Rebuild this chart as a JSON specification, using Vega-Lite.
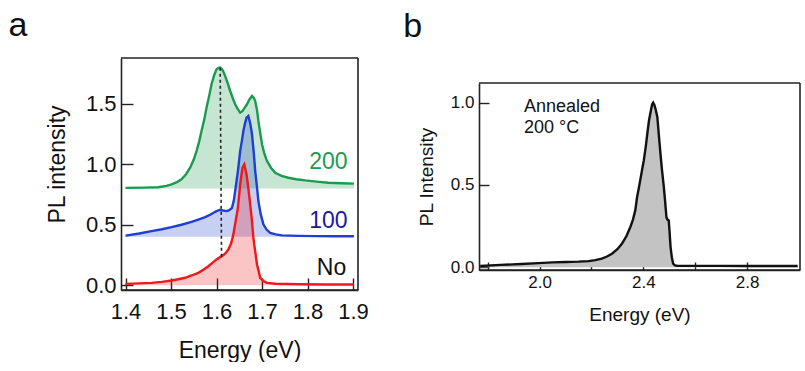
{
  "$schema": "https://vega.github.io/schema/vega-lite/v6.json",
  "padding": {"left": 8, "top": 9, "right": 0, "bottom": 0},
  "spacing": 34,
  "config": {
    "font": "Liberation Sans",
    "view": {"stroke": null},
    "axis": {"grid": false, "domain": true, "domainColor": "#222222", "domainWidth": 1.6, "tickColor": "#222222", "tickWidth": 1.4, "labelColor": "#111111", "titleColor": "#111111", "titleFontWeight": "normal", "labelFont": "Liberation Sans", "titleFont": "Liberation Sans"},
    "title": {"fontWeight": "normal", "anchor": "start", "frame": "bounds", "color": "#111111", "font": "Liberation Sans"}
  },
  "datasets": {
    "spectraA": [
      {"sample": "200", "baseline": 0.8, "energy": 1.40, "intensity": 0.805},
      {"sample": "200", "baseline": 0.8, "energy": 1.44, "intensity": 0.807},
      {"sample": "200", "baseline": 0.8, "energy": 1.472, "intensity": 0.81},
      {"sample": "200", "baseline": 0.8, "energy": 1.49, "intensity": 0.822},
      {"sample": "200", "baseline": 0.8, "energy": 1.501, "intensity": 0.834},
      {"sample": "200", "baseline": 0.8, "energy": 1.513, "intensity": 0.853},
      {"sample": "200", "baseline": 0.8, "energy": 1.523, "intensity": 0.876},
      {"sample": "200", "baseline": 0.8, "energy": 1.533, "intensity": 0.918},
      {"sample": "200", "baseline": 0.8, "energy": 1.542, "intensity": 0.972},
      {"sample": "200", "baseline": 0.8, "energy": 1.550, "intensity": 1.04},
      {"sample": "200", "baseline": 0.8, "energy": 1.556, "intensity": 1.11},
      {"sample": "200", "baseline": 0.8, "energy": 1.562, "intensity": 1.19},
      {"sample": "200", "baseline": 0.8, "energy": 1.567, "intensity": 1.276},
      {"sample": "200", "baseline": 0.8, "energy": 1.573, "intensity": 1.37},
      {"sample": "200", "baseline": 0.8, "energy": 1.578, "intensity": 1.469},
      {"sample": "200", "baseline": 0.8, "energy": 1.584, "intensity": 1.57},
      {"sample": "200", "baseline": 0.8, "energy": 1.589, "intensity": 1.663},
      {"sample": "200", "baseline": 0.8, "energy": 1.595, "intensity": 1.74},
      {"sample": "200", "baseline": 0.8, "energy": 1.600, "intensity": 1.787},
      {"sample": "200", "baseline": 0.8, "energy": 1.605, "intensity": 1.80},
      {"sample": "200", "baseline": 0.8, "energy": 1.609, "intensity": 1.80},
      {"sample": "200", "baseline": 0.8, "energy": 1.614, "intensity": 1.775},
      {"sample": "200", "baseline": 0.8, "energy": 1.619, "intensity": 1.73},
      {"sample": "200", "baseline": 0.8, "energy": 1.625, "intensity": 1.665},
      {"sample": "200", "baseline": 0.8, "energy": 1.630, "intensity": 1.607},
      {"sample": "200", "baseline": 0.8, "energy": 1.636, "intensity": 1.545},
      {"sample": "200", "baseline": 0.8, "energy": 1.641, "intensity": 1.497},
      {"sample": "200", "baseline": 0.8, "energy": 1.646, "intensity": 1.46},
      {"sample": "200", "baseline": 0.8, "energy": 1.652, "intensity": 1.428},
      {"sample": "200", "baseline": 0.8, "energy": 1.657, "intensity": 1.44},
      {"sample": "200", "baseline": 0.8, "energy": 1.662, "intensity": 1.47},
      {"sample": "200", "baseline": 0.8, "energy": 1.667, "intensity": 1.497},
      {"sample": "200", "baseline": 0.8, "energy": 1.672, "intensity": 1.535},
      {"sample": "200", "baseline": 0.8, "energy": 1.678, "intensity": 1.566},
      {"sample": "200", "baseline": 0.8, "energy": 1.682, "intensity": 1.55},
      {"sample": "200", "baseline": 0.8, "energy": 1.685, "intensity": 1.524},
      {"sample": "200", "baseline": 0.8, "energy": 1.689, "intensity": 1.45},
      {"sample": "200", "baseline": 0.8, "energy": 1.692, "intensity": 1.359},
      {"sample": "200", "baseline": 0.8, "energy": 1.696, "intensity": 1.26},
      {"sample": "200", "baseline": 0.8, "energy": 1.700, "intensity": 1.166},
      {"sample": "200", "baseline": 0.8, "energy": 1.705, "intensity": 1.09},
      {"sample": "200", "baseline": 0.8, "energy": 1.711, "intensity": 1.027},
      {"sample": "200", "baseline": 0.8, "energy": 1.720, "intensity": 0.97},
      {"sample": "200", "baseline": 0.8, "energy": 1.729, "intensity": 0.93},
      {"sample": "200", "baseline": 0.8, "energy": 1.743, "intensity": 0.905},
      {"sample": "200", "baseline": 0.8, "energy": 1.758, "intensity": 0.889},
      {"sample": "200", "baseline": 0.8, "energy": 1.775, "intensity": 0.877},
      {"sample": "200", "baseline": 0.8, "energy": 1.795, "intensity": 0.867},
      {"sample": "200", "baseline": 0.8, "energy": 1.820, "intensity": 0.857},
      {"sample": "200", "baseline": 0.8, "energy": 1.846, "intensity": 0.848},
      {"sample": "200", "baseline": 0.8, "energy": 1.875, "intensity": 0.843},
      {"sample": "200", "baseline": 0.8, "energy": 1.902, "intensity": 0.84},
      {"sample": "100", "baseline": 0.4, "energy": 1.40, "intensity": 0.41},
      {"sample": "100", "baseline": 0.4, "energy": 1.43, "intensity": 0.428},
      {"sample": "100", "baseline": 0.4, "energy": 1.457, "intensity": 0.447},
      {"sample": "100", "baseline": 0.4, "energy": 1.48, "intensity": 0.463},
      {"sample": "100", "baseline": 0.4, "energy": 1.501, "intensity": 0.48},
      {"sample": "100", "baseline": 0.4, "energy": 1.523, "intensity": 0.50},
      {"sample": "100", "baseline": 0.4, "energy": 1.545, "intensity": 0.524},
      {"sample": "100", "baseline": 0.4, "energy": 1.560, "intensity": 0.543},
      {"sample": "100", "baseline": 0.4, "energy": 1.575, "intensity": 0.563},
      {"sample": "100", "baseline": 0.4, "energy": 1.587, "intensity": 0.585},
      {"sample": "100", "baseline": 0.4, "energy": 1.597, "intensity": 0.607},
      {"sample": "100", "baseline": 0.4, "energy": 1.603, "intensity": 0.618},
      {"sample": "100", "baseline": 0.4, "energy": 1.608, "intensity": 0.624},
      {"sample": "100", "baseline": 0.4, "energy": 1.614, "intensity": 0.618},
      {"sample": "100", "baseline": 0.4, "energy": 1.622, "intensity": 0.613},
      {"sample": "100", "baseline": 0.4, "energy": 1.628, "intensity": 0.62},
      {"sample": "100", "baseline": 0.4, "energy": 1.634, "intensity": 0.64},
      {"sample": "100", "baseline": 0.4, "energy": 1.638, "intensity": 0.70},
      {"sample": "100", "baseline": 0.4, "energy": 1.641, "intensity": 0.779},
      {"sample": "100", "baseline": 0.4, "energy": 1.644, "intensity": 0.86},
      {"sample": "100", "baseline": 0.4, "energy": 1.647, "intensity": 0.944},
      {"sample": "100", "baseline": 0.4, "energy": 1.652, "intensity": 1.11},
      {"sample": "100", "baseline": 0.4, "energy": 1.656, "intensity": 1.20},
      {"sample": "100", "baseline": 0.4, "energy": 1.659, "intensity": 1.276},
      {"sample": "100", "baseline": 0.4, "energy": 1.663, "intensity": 1.345},
      {"sample": "100", "baseline": 0.4, "energy": 1.666, "intensity": 1.386},
      {"sample": "100", "baseline": 0.4, "energy": 1.670, "intensity": 1.40},
      {"sample": "100", "baseline": 0.4, "energy": 1.674, "intensity": 1.34},
      {"sample": "100", "baseline": 0.4, "energy": 1.678, "intensity": 1.249},
      {"sample": "100", "baseline": 0.4, "energy": 1.682, "intensity": 1.09},
      {"sample": "100", "baseline": 0.4, "energy": 1.685, "intensity": 0.944},
      {"sample": "100", "baseline": 0.4, "energy": 1.689, "intensity": 0.81},
      {"sample": "100", "baseline": 0.4, "energy": 1.692, "intensity": 0.696},
      {"sample": "100", "baseline": 0.4, "energy": 1.697, "intensity": 0.59},
      {"sample": "100", "baseline": 0.4, "energy": 1.703, "intensity": 0.503},
      {"sample": "100", "baseline": 0.4, "energy": 1.710, "intensity": 0.46},
      {"sample": "100", "baseline": 0.4, "energy": 1.718, "intensity": 0.433},
      {"sample": "100", "baseline": 0.4, "energy": 1.730, "intensity": 0.42},
      {"sample": "100", "baseline": 0.4, "energy": 1.744, "intensity": 0.412},
      {"sample": "100", "baseline": 0.4, "energy": 1.780, "intensity": 0.408},
      {"sample": "100", "baseline": 0.4, "energy": 1.820, "intensity": 0.406},
      {"sample": "100", "baseline": 0.4, "energy": 1.860, "intensity": 0.405},
      {"sample": "100", "baseline": 0.4, "energy": 1.902, "intensity": 0.405},
      {"sample": "No", "baseline": 0, "energy": 1.40, "intensity": 0.011},
      {"sample": "No", "baseline": 0, "energy": 1.43, "intensity": 0.015},
      {"sample": "No", "baseline": 0, "energy": 1.457, "intensity": 0.019},
      {"sample": "No", "baseline": 0, "energy": 1.48, "intensity": 0.027},
      {"sample": "No", "baseline": 0, "energy": 1.501, "intensity": 0.039},
      {"sample": "No", "baseline": 0, "energy": 1.516, "intensity": 0.049},
      {"sample": "No", "baseline": 0, "energy": 1.531, "intensity": 0.061},
      {"sample": "No", "baseline": 0, "energy": 1.545, "intensity": 0.08},
      {"sample": "No", "baseline": 0, "energy": 1.560, "intensity": 0.102},
      {"sample": "No", "baseline": 0, "energy": 1.571, "intensity": 0.128},
      {"sample": "No", "baseline": 0, "energy": 1.582, "intensity": 0.157},
      {"sample": "No", "baseline": 0, "energy": 1.591, "intensity": 0.185},
      {"sample": "No", "baseline": 0, "energy": 1.600, "intensity": 0.213},
      {"sample": "No", "baseline": 0, "energy": 1.608, "intensity": 0.232},
      {"sample": "No", "baseline": 0, "energy": 1.615, "intensity": 0.249},
      {"sample": "No", "baseline": 0, "energy": 1.621, "intensity": 0.27},
      {"sample": "No", "baseline": 0, "energy": 1.626, "intensity": 0.296},
      {"sample": "No", "baseline": 0, "energy": 1.632, "intensity": 0.345},
      {"sample": "No", "baseline": 0, "energy": 1.637, "intensity": 0.42},
      {"sample": "No", "baseline": 0, "energy": 1.642, "intensity": 0.53},
      {"sample": "No", "baseline": 0, "energy": 1.647, "intensity": 0.64},
      {"sample": "No", "baseline": 0, "energy": 1.652, "intensity": 0.834},
      {"sample": "No", "baseline": 0, "energy": 1.657, "intensity": 0.972},
      {"sample": "No", "baseline": 0, "energy": 1.661, "intensity": 1.0},
      {"sample": "No", "baseline": 0, "energy": 1.666, "intensity": 0.917},
      {"sample": "No", "baseline": 0, "energy": 1.670, "intensity": 0.80},
      {"sample": "No", "baseline": 0, "energy": 1.674, "intensity": 0.669},
      {"sample": "No", "baseline": 0, "energy": 1.678, "intensity": 0.53},
      {"sample": "No", "baseline": 0, "energy": 1.681, "intensity": 0.392},
      {"sample": "No", "baseline": 0, "energy": 1.685, "intensity": 0.28},
      {"sample": "No", "baseline": 0, "energy": 1.689, "intensity": 0.171},
      {"sample": "No", "baseline": 0, "energy": 1.693, "intensity": 0.11},
      {"sample": "No", "baseline": 0, "energy": 1.696, "intensity": 0.061},
      {"sample": "No", "baseline": 0, "energy": 1.703, "intensity": 0.035},
      {"sample": "No", "baseline": 0, "energy": 1.711, "intensity": 0.019},
      {"sample": "No", "baseline": 0, "energy": 1.730, "intensity": 0.012},
      {"sample": "No", "baseline": 0, "energy": 1.780, "intensity": 0.008},
      {"sample": "No", "baseline": 0, "energy": 1.840, "intensity": 0.006},
      {"sample": "No", "baseline": 0, "energy": 1.902, "intensity": 0.005}
    ],
    "markerA": [
      {"energy": 1.608, "energy2": 1.611, "intensity": 1.80, "intensity2": 0.23}
    ],
    "labelsA": [
      {"sample": "200", "energy": 1.888, "intensity": 0.96},
      {"sample": "100", "energy": 1.888, "intensity": 0.472},
      {"sample": "No", "energy": 1.885, "intensity": 0.088}
    ],
    "spectrumB": [
      {"energy": 1.771, "intensity": 0.008},
      {"energy": 1.85, "intensity": 0.015},
      {"energy": 1.93, "intensity": 0.02},
      {"energy": 1.996, "intensity": 0.026},
      {"energy": 2.05, "intensity": 0.03},
      {"energy": 2.10, "intensity": 0.033},
      {"energy": 2.15, "intensity": 0.035},
      {"energy": 2.189, "intensity": 0.038},
      {"energy": 2.215, "intensity": 0.044},
      {"energy": 2.24, "intensity": 0.053},
      {"energy": 2.26, "intensity": 0.066},
      {"energy": 2.279, "intensity": 0.083},
      {"energy": 2.30, "intensity": 0.11},
      {"energy": 2.318, "intensity": 0.144},
      {"energy": 2.335, "intensity": 0.19},
      {"energy": 2.35, "intensity": 0.245},
      {"energy": 2.36, "intensity": 0.29},
      {"energy": 2.369, "intensity": 0.346},
      {"energy": 2.376, "intensity": 0.427},
      {"energy": 2.382, "intensity": 0.475},
      {"energy": 2.388, "intensity": 0.528},
      {"energy": 2.395, "intensity": 0.59},
      {"energy": 2.402, "intensity": 0.65},
      {"energy": 2.41, "intensity": 0.74},
      {"energy": 2.416, "intensity": 0.82},
      {"energy": 2.422, "intensity": 0.893},
      {"energy": 2.43, "intensity": 0.96},
      {"energy": 2.434, "intensity": 0.99},
      {"energy": 2.438, "intensity": 1.0},
      {"energy": 2.443, "intensity": 0.985},
      {"energy": 2.448, "intensity": 0.955},
      {"energy": 2.454, "intensity": 0.913},
      {"energy": 2.46, "intensity": 0.80},
      {"energy": 2.466, "intensity": 0.69},
      {"energy": 2.472, "intensity": 0.59},
      {"energy": 2.479, "intensity": 0.488},
      {"energy": 2.484, "intensity": 0.40},
      {"energy": 2.489, "intensity": 0.305},
      {"energy": 2.493, "intensity": 0.29},
      {"energy": 2.498, "intensity": 0.285},
      {"energy": 2.501, "intensity": 0.22},
      {"energy": 2.505, "intensity": 0.123},
      {"energy": 2.51, "intensity": 0.06},
      {"energy": 2.515, "intensity": 0.022},
      {"energy": 2.522, "intensity": 0.012},
      {"energy": 2.531, "intensity": 0.01},
      {"energy": 2.6, "intensity": 0.009},
      {"energy": 2.7, "intensity": 0.009},
      {"energy": 2.8, "intensity": 0.008},
      {"energy": 2.9, "intensity": 0.008},
      {"energy": 2.995, "intensity": 0.008}
    ],
    "noteB": [
      {"energy": 1.94, "intensity": 0.941, "note": ["Annealed", "200 °C"]}
    ]
  },
  "hconcat": [
    {
      "width": 237,
      "height": 232,
      "title": {"text": "a", "fontSize": 34, "dx": -38, "offset": 14},
      "encoding": {
        "x": {"field": "energy", "type": "quantitative",
          "scale": {"domain": [1.39, 1.911], "nice": false, "zero": false},
          "axis": {"values": [1.4, 1.5, 1.6, 1.7, 1.8, 1.9], "format": ".1f", "tickSize": -12, "labelPadding": 23, "labelFontSize": 22, "title": "Energy (eV)", "titleFontSize": 23, "titlePadding": 17}},
        "y": {"field": "intensity", "type": "quantitative",
          "scale": {"domain": [-0.04, 1.88], "nice": false, "zero": false},
          "axis": {"values": [0, 0.5, 1.0, 1.5], "format": ".1f", "tickSize": -12, "labelPadding": 17, "labelFontSize": 22, "title": "PL intensity", "titleFontSize": 23, "titlePadding": 16, "titleY": 106}}
      },
      "layer": [
        {
          "data": {"name": "spectraA"},
          "mark": {"type": "area", "fillOpacity": 0.25},
          "encoding": {
            "y2": {"field": "baseline"},
            "color": {"field": "sample", "type": "nominal", "scale": {"domain": ["No", "100", "200"], "range": ["#f01818", "#1e3fd0", "#1c9a50"]}, "legend": null}
          }
        },
        {
          "data": {"name": "spectraA"},
          "mark": {"type": "line", "strokeWidth": 2.4},
          "encoding": {
            "color": {"field": "sample", "type": "nominal", "scale": {"domain": ["No", "100", "200"], "range": ["#f01818", "#1e3fd0", "#1c9a50"]}, "legend": null}
          }
        },
        {
          "data": {"name": "markerA"},
          "mark": {"type": "rule", "strokeDash": [3, 3], "strokeWidth": 1.6, "color": "#222222"},
          "encoding": {"x2": {"field": "energy2"}, "y2": {"field": "intensity2"}}
        },
        {
          "data": {"name": "labelsA"},
          "transform": [{"filter": "datum.sample == '200'"}],
          "mark": {"type": "text", "align": "right", "baseline": "alphabetic", "fontSize": 23, "color": "#1c9a50"},
          "encoding": {"text": {"field": "sample"}}
        },
        {
          "data": {"name": "labelsA"},
          "transform": [{"filter": "datum.sample == '100'"}],
          "mark": {"type": "text", "align": "right", "baseline": "alphabetic", "fontSize": 23, "color": "#1a1aa0"},
          "encoding": {"text": {"field": "sample"}}
        },
        {
          "data": {"name": "labelsA"},
          "transform": [{"filter": "datum.sample == 'No'"}],
          "mark": {"type": "text", "align": "right", "baseline": "alphabetic", "fontSize": 23, "color": "#111111"},
          "encoding": {"text": {"field": "sample"}}
        },
        {
          "data": {"name": "markerA"},
          "mark": {"type": "rule", "strokeWidth": 1.6, "color": "#222222"},
          "encoding": {"x": {"datum": 1.39}, "x2": {"datum": 1.911}, "y": {"datum": 1.88}}
        },
        {
          "data": {"name": "markerA"},
          "mark": {"type": "rule", "strokeWidth": 1.6, "color": "#222222"},
          "encoding": {"x": {"datum": 1.39}, "x2": {"datum": 1.911}, "y": {"datum": -0.04}}
        },
        {
          "data": {"name": "markerA"},
          "mark": {"type": "rule", "strokeWidth": 1.6, "color": "#222222"},
          "encoding": {"x": {"datum": 1.911}, "y": {"datum": -0.04}, "y2": {"datum": 1.88}}
        }
      ]
    },
    {
      "title": {"text": "b", "fontSize": 34, "dx": -14, "offset": 14},
      "spacing": 0,
      "vconcat": [
        {
          "width": 321,
          "height": 24,
          "data": {"name": "noteB"},
          "mark": {"type": "point", "opacity": 0}
        },
        {
          "width": 321,
          "height": 187,
          "encoding": {
            "x": {"field": "energy", "type": "quantitative",
              "scale": {"domain": [1.7665, 3.004], "nice": false, "zero": false},
              "axis": {"values": [1.8, 2.0, 2.2, 2.4, 2.6, 2.8], "format": ".1f", "labelExpr": "indexof(['2.0','2.4','2.8'], datum.label) >= 0 ? datum.label : ''", "tickSize": -8, "labelPadding": 12, "labelFontSize": 17, "title": "Energy (eV)", "titleFontSize": 19, "titlePadding": 15}},
            "y": {"field": "intensity", "type": "quantitative",
              "scale": {"domain": [-0.016, 1.119], "nice": false, "zero": false},
              "axis": {"values": [0, 0.5, 1.0], "format": ".1f", "tickSize": -10, "labelPadding": 15, "labelFontSize": 17, "title": "PL Intensity", "titleFontSize": 19, "titlePadding": 14}}
          },
          "layer": [
            {
              "data": {"name": "spectrumB"},
              "mark": {"type": "area", "color": "#c3c3c3"},
              "encoding": {"y2": {"datum": 0}}
            },
            {
              "data": {"name": "spectrumB"},
              "mark": {"type": "line", "color": "#111111", "strokeWidth": 2.4}
            },
            {
              "data": {"name": "noteB"},
              "mark": {"type": "text", "align": "left", "baseline": "alphabetic", "fontSize": 18, "lineHeight": 21, "color": "#111111"},
              "encoding": {"text": {"field": "note"}}
            },
            {
              "data": {"name": "noteB"},
              "mark": {"type": "rule", "strokeWidth": 1.6, "color": "#222222"},
              "encoding": {"x": {"datum": 1.7665}, "x2": {"datum": 3.004}, "y": {"datum": 1.119}}
            },
            {
              "data": {"name": "noteB"},
              "mark": {"type": "rule", "strokeWidth": 1.6, "color": "#222222"},
              "encoding": {"x": {"datum": 1.7665}, "x2": {"datum": 3.004}, "y": {"datum": -0.016}}
            },
            {
              "data": {"name": "noteB"},
              "mark": {"type": "rule", "strokeWidth": 1.6, "color": "#222222"},
              "encoding": {"x": {"datum": 3.004}, "y": {"datum": -0.016}, "y2": {"datum": 1.119}}
            }
          ]
        }
      ]
    }
  ]
}
